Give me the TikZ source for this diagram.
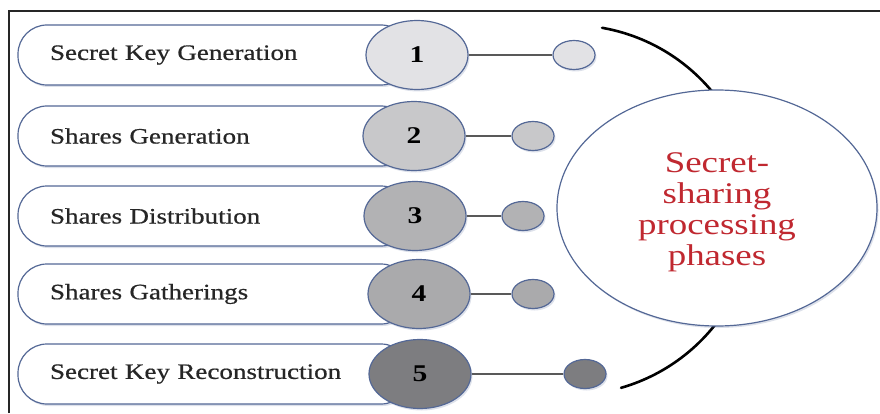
\documentclass[tikz,border=0pt]{standalone}
\usepackage{fontspec}
\setmainfont{Liberation Serif}[FakeStretch=1.23]
\newfontfamily\phasefont{Liberation Serif}[FakeStretch=1.23,FakeBold=0.6]
\usetikzlibrary{shapes.geometric,shadows}

\definecolor{rim}{RGB}{84,104,150}
\definecolor{phasered}{RGB}{192,40,48}
\definecolor{tone1}{RGB}{226,226,229}
\definecolor{tone2}{RGB}{200,200,202}
\definecolor{tone3}{RGB}{178,178,180}
\definecolor{tone4}{RGB}{170,170,172}
\definecolor{tone5}{RGB}{125,125,128}

\tikzset{
  soft/.style={drop shadow={shadow xshift=1.5pt,shadow yshift=-2pt,opacity=0.2,fill=rim}},
  pill/.style={draw=rim,line width=1.2pt,fill=white,rounded corners=29pt,
    minimum height=60pt,text width=328pt,inner xsep=32pt,align=left,
    font=\phasefont\fontsize{22}{26}\selectfont,text=black!85,soft},
  num/.style={ellipse,draw=rim,line width=1.2pt,minimum width=102pt,
    minimum height=69pt,inner sep=0pt,font=\bfseries\fontsize{24}{28}\selectfont,soft},
  dot/.style={ellipse,draw=rim,line width=1.2pt,minimum width=42pt,
    minimum height=29pt,inner sep=0pt,soft},
  link/.style={draw=black!65,line width=1.3pt}
}

\begin{document}
\begin{tikzpicture}[x=1pt,y=1pt]
  \useasboundingbox (0,0) rectangle (880,413);
  \draw[line width=2pt,black!85] (9,0) -- (9,402) -- (880,402);

  % the five phases
  \node[pill] (p1) at (214,358) {Secret Key Generation};
  \node[pill] (p2) at (214,277) {Shares Generation};
  \node[pill] (p3) at (214,197) {Shares Distribution};
  \node[pill] (p4) at (214,119) {Shares Gatherings};
  \node[pill] (p5) at (214,39)  {Secret Key Reconstruction};

  \node[num,fill=tone1] (c1) at (417,358) {1};
  \node[num,fill=tone2] (c2) at (414,277) {2};
  \node[num,fill=tone3] (c3) at (415,197) {3};
  \node[num,fill=tone4] (c4) at (419,119) {4};
  \node[num,fill=tone5] (c5) at (420,39)  {5};

  \node[dot,fill=tone1] (d1) at (574,358) {};
  \node[dot,fill=tone2] (d2) at (533,277) {};
  \node[dot,fill=tone3] (d3) at (523,197) {};
  \node[dot,fill=tone4] (d4) at (533,119) {};
  \node[dot,fill=tone5] (d5) at (585,39)  {};

  \foreach \from/\to in {c1/d1,c2/d2,c3/d3,c4/d4,c5/d5}
    \draw[link] (\from) -- (\to);

  % bracket behind the centre
  \draw[line width=2.6pt,line cap=round] (570,203) ++(80:185) arc (80:-74:185);

  \node[ellipse,draw=rim,line width=1.2pt,fill=white,minimum width=320pt,
    minimum height=236pt,soft] (phases) at (717,205) {};
  \node[align=center,text=phasered,font=\fontsize{30}{31}\selectfont]
    (phasetext) at ([yshift=-4pt]phases.center) {Secret-\\sharing\\processing\\phases};
\end{tikzpicture}
\end{document}
